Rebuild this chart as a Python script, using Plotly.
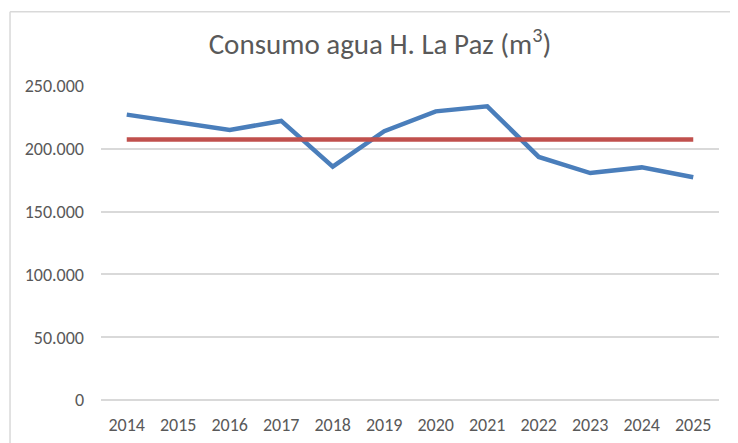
import plotly.graph_objects as go

years = ["2014", "2015", "2016", "2017", "2018", "2019", "2020", "2021", "2022", "2023", "2024", "2025"]
consumo = [227200, 221500, 215000, 222200, 185800, 214000, 229800, 233800, 193500, 180700, 185200, 177300]
promedio = [207400] * 12
y_ticks = [0, 50000, 100000, 150000, 200000, 250000]

fig = go.Figure()
fig.add_trace(go.Scatter(x=years, y=consumo, mode="lines",
                         line=dict(color="#4a7ebb", width=4.5), showlegend=False))
fig.add_trace(go.Scatter(x=years, y=promedio, mode="lines",
                         line=dict(color="#c0504d", width=4.5), showlegend=False))

font_fam = "Carlito, 'Liberation Sans Narrow', 'DejaVu Sans Condensed', Roboto, sans-serif"

# frame (page body has an 8px margin; figure sized to fit the window)
fx = -0.1472
fy = 1.2365
fig.add_shape(type="line", xref="paper", yref="paper", x0=fx, x1=fx, y0=-1, y1=fy,
              line=dict(color="#d9d9d9", width=1.5))
fig.add_shape(type="line", xref="paper", yref="paper", x0=fx, x1=2, y0=fy, y1=fy,
              line=dict(color="#d9d9d9", width=1.5))

fig.update_layout(
    width=730, height=435,
    margin=dict(l=93, r=19, t=77.5, b=42.5),
    paper_bgcolor="white", plot_bgcolor="white",
    separators=",.",
    font=dict(family=font_fam, color="#595959", size=18),
    title=dict(text="Consumo agua H. La Paz (m<sup>3</sup>)", x=0.5096, xanchor="center",
               y=0.917, yanchor="middle", xref="container", yref="container",
               font=dict(family=font_fam, size=29, color="#595959")),
    xaxis=dict(type="category", showgrid=False, showline=False, ticks="",
               tickfont=dict(size=18, color="#595959"), ticklabelstandoff=12,
               range=[-0.5, 11.5], automargin=False),
    yaxis=dict(range=[0, 250000], tickvals=y_ticks, tickformat=",.0f",
               showgrid=True, gridcolor="#d9d9d9", gridwidth=1.5,
               zeroline=True, zerolinecolor="#d9d9d9", zerolinewidth=1.5,
               showline=False, ticks="", ticklabelstandoff=16,
               tickfont=dict(size=18, color="#595959"), automargin=False),
)

fig.write_html("out.html")
